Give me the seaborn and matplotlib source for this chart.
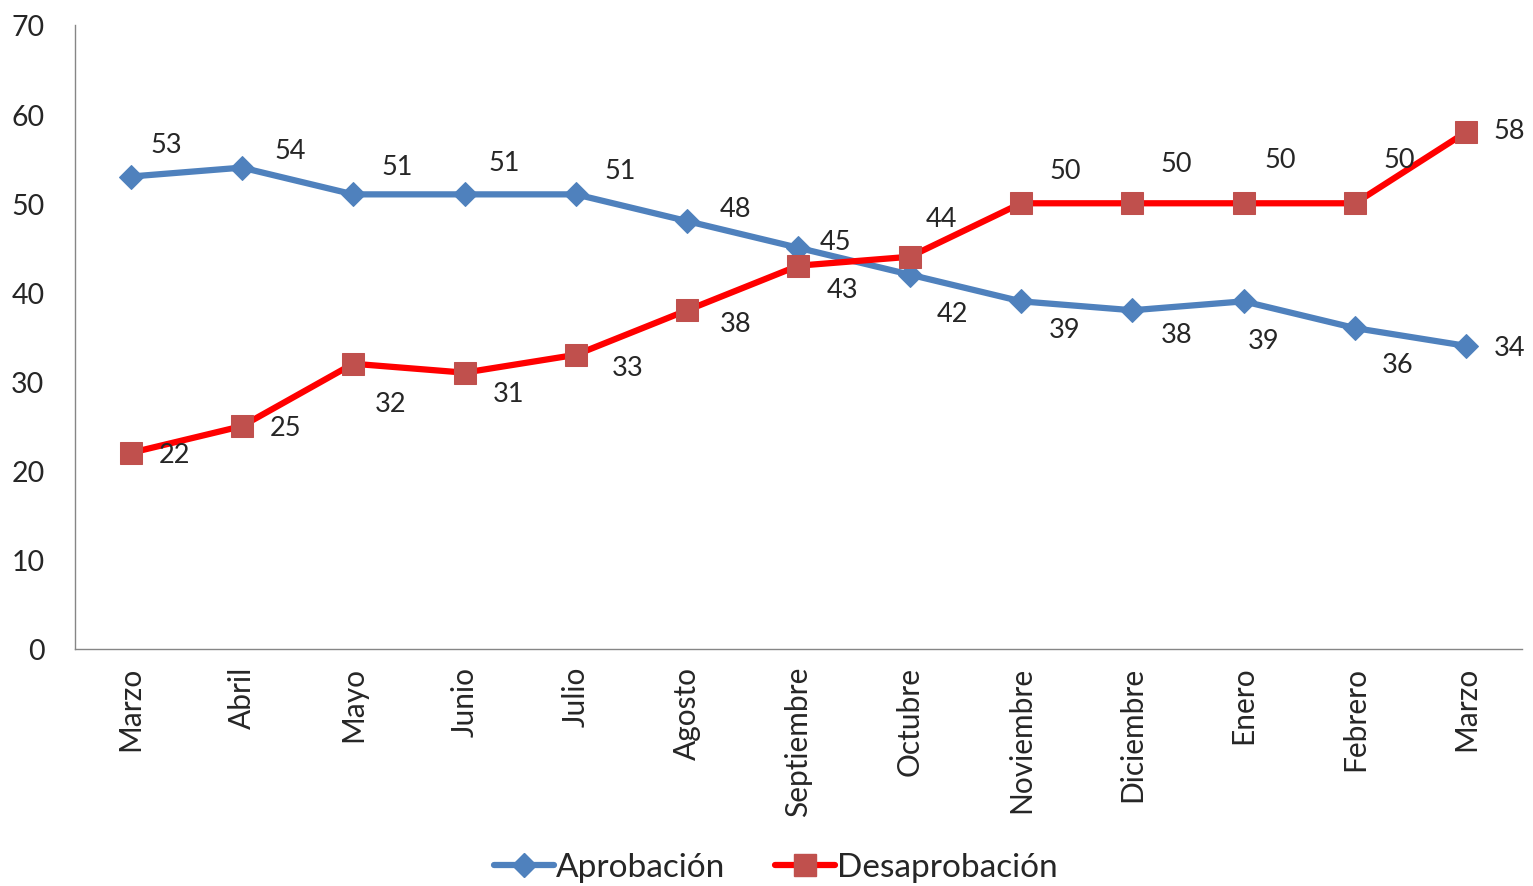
import pandas as pd
import matplotlib.pyplot as plt
import seaborn as sns
import numpy as np
from matplotlib.lines import Line2D

meses = ["Marzo", "Abril", "Mayo", "Junio", "Julio", "Agosto", "Septiembre",
         "Octubre", "Noviembre", "Diciembre", "Enero", "Febrero", "Marzo"]
aprobacion = [53, 54, 51, 51, 51, 48, 45, 42, 39, 38, 39, 36, 34]
desaprobacion = [22, 25, 32, 31, 33, 38, 43, 44, 50, 50, 50, 50, 58]
y_ticks = [0, 10, 20, 30, 40, 50, 60, 70]

# label offsets in pixels (dx, dy) for each point
off_apr = [(36, 32), (48, 17), (44, 28), (40, 32), (44, 24), (48, 13), (37, 6),
           (43, -39), (44, -28), (44, -24), (20, -39), (43, -36), (43, -2)]
off_des = [(44, -2), (44, -1), (37, -40), (44, -21), (52, -13), (48, -13), (44, -24),
           (32, 38), (44, 33), (44, 40), (37, 44), (44, 44), (43, 1)]

pos = np.arange(len(meses))
df = pd.DataFrame({"x": np.concatenate([pos, pos]),
                   "valor": aprobacion + desaprobacion,
                   "serie": ["Aprobación"] * len(meses) + ["Desaprobación"] * len(meses)})

sns.set_style("white")
plt.rcParams['font.family'] = ['Lato', 'DejaVu Sans']

fig = plt.figure(figsize=(15.33, 8.87), dpi=100)
ax = fig.add_axes([0.0489, 0.2672, 0.9439, 0.7035])

sns.lineplot(data=df, x="x", y="valor", hue="serie", style="serie",
             palette={"Aprobación": "#4F81BD", "Desaprobación": "#FF0000"},
             markers={"Aprobación": "D", "Desaprobación": "s"}, dashes=False,
             linewidth=4.5, markersize=12, ax=ax, legend=False)
lines = ax.get_lines()
lines[0].set_markerfacecolor("#4F81BD")
lines[0].set_markeredgecolor("#4F81BD")
lines[0].set_markersize(12.5)
lines[1].set_markerfacecolor("#C0504D")
lines[1].set_markeredgecolor("#C0504D")
lines[1].set_markersize(16.5)
for ln in lines:
    ln.set_solid_capstyle("round")
    ln.set_solid_joinstyle("round")

for i in range(len(meses)):
    ax.annotate(str(aprobacion[i]), (pos[i], aprobacion[i]), xytext=off_apr[i],
                textcoords="offset pixels", ha="center", va="center", fontsize=19.5)
    ax.annotate(str(desaprobacion[i]), (pos[i], desaprobacion[i]), xytext=off_des[i],
                textcoords="offset pixels", ha="center", va="center", fontsize=19.5)

ax.set_xlim(-0.5, len(meses) - 0.5)
ax.set_ylim(0, 70)
ax.set_yticks(y_ticks)
ax.set_yticklabels([str(v) for v in y_ticks], fontsize=20.5)
ax.set_xticks(pos)
ax.set_xticklabels(meses, rotation=90, fontsize=21.5)
ax.set_xticks(np.arange(len(meses) + 1) - 0.5, minor=True)
ax.tick_params(axis="x", which="major", length=0, pad=12)
ax.tick_params(axis="x", which="minor", length=8, width=1, color="#868686", direction="out")
ax.tick_params(axis="y", length=8, width=1, color="#868686", direction="out", pad=14)
ax.set_xlabel("")
ax.set_ylabel("")
for s in ["top", "right"]:
    ax.spines[s].set_visible(False)
for s in ["left", "bottom"]:
    ax.spines[s].set_color("#868686")
    ax.spines[s].set_linewidth(1)

handles = [Line2D([], [], color="#4F81BD", lw=4.5, marker="D", markersize=12.5,
                  markerfacecolor="#4F81BD", markeredgecolor="#4F81BD", solid_capstyle="round"),
           Line2D([], [], color="#FF0000", lw=4.5, marker="s", markersize=16.5,
                  markerfacecolor="#C0504D", markeredgecolor="#C0504D", solid_capstyle="round")]
fig.legend(handles, ["Aprobación", "Desaprobación"], loc="center", bbox_to_anchor=(0.506, 0.021),
           ncol=2, frameon=False, fontsize=24, handlelength=1.8, handletextpad=0.05,
           columnspacing=1.5)

fig.savefig("out.png", dpi=100)
